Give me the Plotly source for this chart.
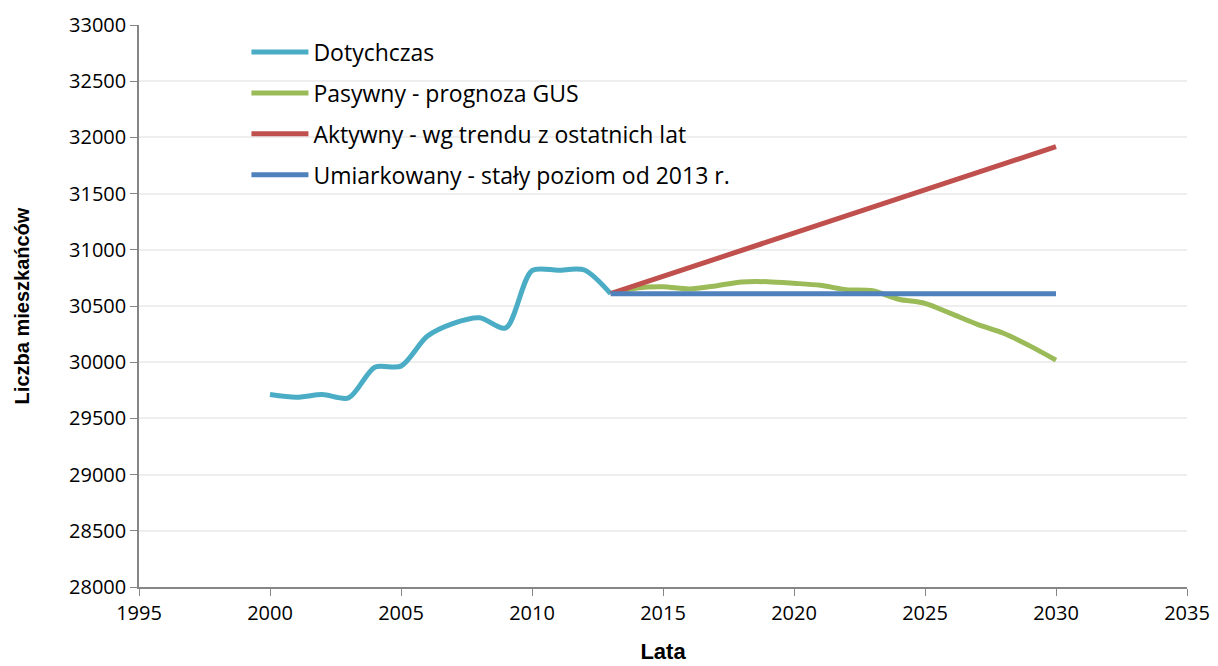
import plotly.graph_objects as go

hist_years = [2000, 2001, 2002, 2003, 2004, 2005, 2006, 2007, 2008, 2009, 2010, 2011, 2012, 2013]
hist_vals = [29712, 29688, 29712, 29682, 29955, 29965, 30230, 30345, 30395, 30305, 30815, 30818, 30820, 30610]

pas_years = [2013, 2014, 2015, 2016, 2017, 2018, 2019, 2020, 2021, 2022, 2023, 2024, 2025, 2026, 2027, 2028, 2029, 2030]
pas_vals = [30610, 30660, 30672, 30652, 30678, 30714, 30716, 30702, 30684, 30645, 30636, 30560, 30524, 30432, 30337, 30257, 30145, 30018]

akt_years = [2013, 2030]
akt_vals = [30610, 31918]

umi_years = [2013, 2030]
umi_vals = [30610, 30610]

names = ["Dotychczas", "Pasywny - prognoza GUS", "Aktywny - wg trendu z ostatnich lat",
         "Umiarkowany - stały poziom od 2013 r."]
colors = ["#4BACC6", "#9BBB59", "#C0504D", "#4F81BD"]

x_ticks = list(range(1995, 2036, 5))
y_ticks = list(range(28000, 33001, 500))

font_text = "Open Sans, Liberation Sans, Arial, sans-serif"
font_title = "Liberation Sans Narrow, Liberation Sans, Arial, sans-serif"

fig = go.Figure()
series = [(hist_years, hist_vals, "spline"), (pas_years, pas_vals, "spline"),
          (akt_years, akt_vals, "linear"), (umi_years, umi_vals, "linear")]
for i, (xs, ys, shape) in enumerate(series):
    fig.add_trace(go.Scatter(
        x=xs, y=ys, mode="lines", name=names[i], legendgroup=f"g{i}",
        line=dict(color=colors[i], width=5, shape=shape,
                  **({"smoothing": 0.8} if shape == "spline" else {})),
    ))

fig.update_layout(
    width=1218, height=666,
    margin=dict(l=131, r=39, t=17, b=87, autoexpand=False),
    paper_bgcolor="white", plot_bgcolor="white",
    font=dict(family=font_text, size=20, color="#000000"),
    showlegend=True,
    legend=dict(x=0.1025, y=0.99, xanchor="left", yanchor="top",
                bgcolor="rgba(255,255,255,0)", tracegroupgap=8,
                itemwidth=57, font=dict(size=23, family=font_text)),
    xaxis=dict(range=[1995, 2035], tickvals=x_ticks, ticktext=[str(t) for t in x_ticks],
               showgrid=False, showline=True, linecolor="#868686", linewidth=1.5,
               ticks="outside", ticklen=7, tickcolor="#868686", zeroline=False,
               automargin=False,
               title=dict(text="<b>Lata</b>", font=dict(family=font_title, size=22), standoff=19),
               tickfont=dict(size=20)),
    yaxis=dict(range=[28000, 33000], tickvals=y_ticks, ticktext=[str(t) for t in y_ticks],
               showgrid=True, gridcolor="#EEEEEE", gridwidth=1.5,
               showline=True, linecolor="#868686", linewidth=1.5,
               ticks="outside", ticklen=7, tickcolor="#868686", zeroline=False,
               automargin=False,
               title=dict(text="<b>Liczba mieszkańców</b>", font=dict(family=font_title, size=20), standoff=34),
               tickfont=dict(size=20)),
)

fig.write_html("out.html")
